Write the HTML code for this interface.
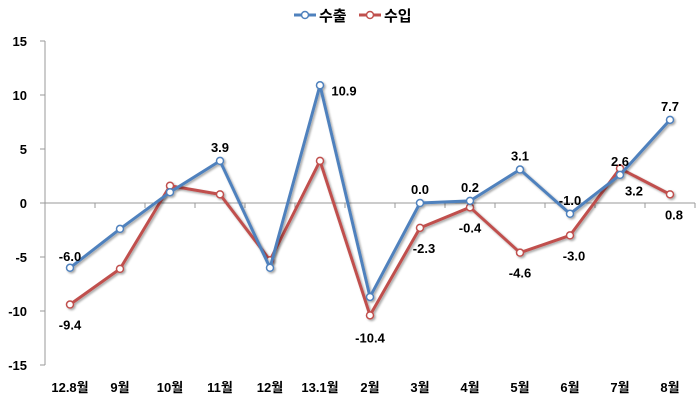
<!DOCTYPE html>
<html><head><meta charset="utf-8"><style>
body{margin:0;background:#fff}
text{font-family:"Liberation Sans","Noto Sans CJK KR",sans-serif;font-weight:bold;fill:#000}
</style></head><body>
<svg id="chart" width="700" height="406" xmlns="http://www.w3.org/2000/svg">
<defs><filter id="sh" x="-5%" y="-5%" width="110%" height="110%"><feDropShadow dx="1.5" dy="1.5" stdDeviation="1" flood-color="#000" flood-opacity="0.35"/></filter></defs>
<g id="axes"></g><g id="series"></g><g id="labels"></g>
<g>
<g>
<line x1="294" y1="15" x2="316" y2="15" stroke="#4f81bd" stroke-width="3"/><circle cx="305" cy="15" r="3.5" fill="#fff" stroke="#4f81bd" stroke-width="1.5"/>
<text x="319" y="21" font-size="15">수출</text></g>
<g>
<line x1="359" y1="15" x2="381" y2="15" stroke="#c0504d" stroke-width="3"/><circle cx="370" cy="15" r="3.5" fill="#fff" stroke="#c0504d" stroke-width="1.5"/>
<text x="384" y="21" font-size="15">수입</text></g>
</g>
</svg>
<script>
const categories=["12.8월","9월","10월","11월","12월","13.1월","2월","3월","4월","5월","6월","7월","8월"];
const exportValues=[-6.0,-2.4,1.0,3.9,-6.0,10.9,-8.7,0.0,0.2,3.1,-1.0,2.6,7.7];
const importValues=[-9.4,-6.1,1.6,0.8,-5.3,3.9,-10.4,-2.3,-0.4,-4.6,-3.0,3.2,0.8];
const yTicks=[15,10,5,0,-5,-10,-15];
const exportLabels=["-6.0","","","3.9","","10.9","","0.0","0.2","3.1","-1.0","2.6","7.7"];
const importLabels=["-9.4","","","","","","-10.4","-2.3","-0.4","-4.6","-3.0","3.2","0.8"];
const NS="http://www.w3.org/2000/svg";
const L=45,R=695,yTop=41,yBot=365;
const x=i=>L+(R-L)/categories.length*(i+0.5);
const y=v=>yTop+(15-v)/30*(yBot-yTop);
function mk(tag,attrs,parent,txt){const e=document.createElementNS(NS,tag);for(const k in attrs)e.setAttribute(k,attrs[k]);if(txt!==undefined)e.textContent=txt;parent.appendChild(e);return e;}
const ax=document.getElementById('axes'),se=document.getElementById('series'),lb=document.getElementById('labels');
let e=mk('line',{x1:L,y1:yTop,x2:L,y2:yBot,stroke:'#999'},ax);


yTicks.forEach(t=>{mk('line',{x1:L-5,y1:y(t),x2:L,y2:y(t),stroke:'#999'},ax);
const tx=mk('text',{x:27,y:y(t)+5,'font-size':13,'text-anchor':'end'},ax,String(t));

});
e=mk('line',{x1:L,y1:y(0),x2:R,y2:y(0),stroke:'#999'},ax);


categories.forEach((c,i)=>{const bx=L+(R-L)/categories.length*(i+1);mk('line',{x1:bx,y1:y(0),x2:bx,y2:y(0)+5,stroke:'#999'},ax);
const tx=mk('text',{x:x(i),y:392,'font-size':13,'text-anchor':'middle'},ax,c);

});
function series(vals,color,name){const g=mk('g',{filter:'url(#sh)'},se);


mk('polyline',{points:vals.map((v,i)=>x(i)+','+y(v)).join(' '),fill:'none',stroke:color,'stroke-width':3,'stroke-linejoin':'round'},g);
vals.forEach((v,i)=>{const c=mk('circle',{cx:x(i),cy:y(v),r:3.5,fill:'#fff',stroke:color,'stroke-width':1.5},g);

});}
series(importValues,'#c0504d','import-series');
series(exportValues,'#4f81bd','export-series');
const expOff={0:[0,-12],3:[0,-14],5:[24,5],7:[0,-14],8:[0,-14],9:[0,-14],10:[0,-14],11:[0,-14],12:[0,-14]};
const impOff={0:[0,20],6:[0,22],7:[4,20],8:[0,20],9:[0,20],10:[4,20],11:[14,22],12:[4,20]};
function labels(vals,arr,off,name){arr.forEach((s,i)=>{if(!s)return;const o=off[i]||[0,-12];
const t=mk('text',{x:x(i)+o[0],y:y(vals[i])+o[1]+5,'font-size':13,'text-anchor':'middle'},lb,s);

});}
labels(exportValues,exportLabels,expOff,'export-value-label');
labels(importValues,importLabels,impOff,'import-value-label');
</script>
</body></html>
